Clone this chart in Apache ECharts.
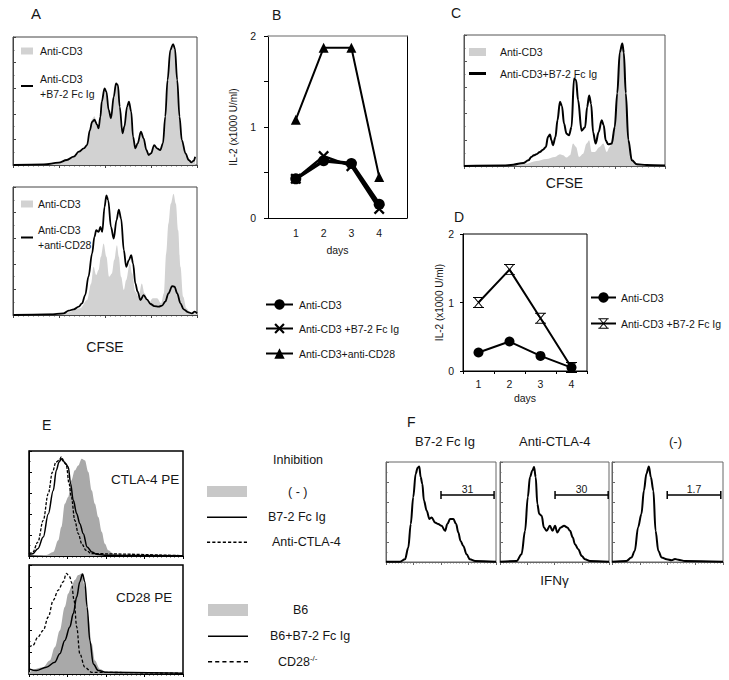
<!DOCTYPE html>
<html><head><meta charset="utf-8">
<script src="https://cdn.jsdelivr.net/npm/echarts@6/dist/echarts.min.js"></script>
<style>html,body{margin:0;padding:0;background:#fff}#c{width:729px;height:680px}</style>
</head><body><div id="c"></div>
<script>
// ===== Panel A: CFSE histograms (x = log decades 0..4, y = % of max count) =====
const aTopFill = [[0.01,0],[0.67,0.5],[0.99,1.8],[1.17,3.9],[1.32,6.5],[1.43,10.4],[1.54,13],[1.61,16],[1.67,28],[1.72,36],[1.77,38],[1.83,32],[1.86,29],[1.90,38],[1.93,49.5],[1.99,59.9],[2.03,57.3],[2.08,43],[2.13,36.5],[2.19,53.4],[2.24,63.8],[2.28,62.5],[2.32,45.6],[2.38,24.7],[2.42,29.9],[2.48,45.6],[2.52,49.5],[2.57,41.7],[2.61,22.1],[2.66,13],[2.71,16.9],[2.78,26],[2.84,20.8],[2.90,11.7],[2.95,7.8],[3.00,9.1],[3.07,15.6],[3.13,13],[3.20,11.7],[3.26,16.9],[3.31,37.8],[3.36,66.4],[3.42,89.8],[3.48,94.5],[3.52,91.1],[3.57,66.4],[3.62,37.8],[3.67,19.5],[3.75,9.1],[3.82,3.9],[3.88,2.1],[3.93,3.4],[3.96,6.5]];
const aTopLine = [[0.01,0],[0.67,0.5],[0.99,1.8],[1.17,3.9],[1.32,6.5],[1.43,10.4],[1.54,13],[1.61,15.6],[1.67,27],[1.72,33.6],[1.77,35.4],[1.83,31.3],[1.86,28.6],[1.90,37.8],[1.93,49.5],[1.99,59.9],[2.03,57.3],[2.08,43],[2.13,36.5],[2.19,53.4],[2.24,63.8],[2.28,62.5],[2.32,45.6],[2.38,24.7],[2.42,29.9],[2.48,45.6],[2.52,49.5],[2.57,41.7],[2.61,22.1],[2.66,13],[2.71,16.9],[2.78,26],[2.84,20.8],[2.90,11.7],[2.95,7.8],[3.00,9.1],[3.07,15.6],[3.13,13],[3.20,11.7],[3.26,16.9],[3.31,37.8],[3.36,66.4],[3.42,89.8],[3.48,94.5],[3.52,91.1],[3.57,66.4],[3.62,37.8],[3.67,19.5],[3.75,9.1],[3.82,3.9],[3.88,2.1],[3.93,3.4],[3.96,6.5]];
const aBotFill = [[0.01,0],[1.17,1.8],[1.46,5.2],[1.61,11.7],[1.70,24.7],[1.75,37.7],[1.81,31.2],[1.86,35.1],[1.91,45.5],[1.97,55.8],[2.03,45.5],[2.09,29.9],[2.15,32.5],[2.20,42.9],[2.26,54.5],[2.30,45.5],[2.35,29.9],[2.41,19.5],[2.46,27.3],[2.54,40.3],[2.59,32.5],[2.66,18.2],[2.73,14.3],[2.80,24.7],[2.86,16.9],[2.95,9.1],[3.04,13],[3.13,13],[3.22,9.1],[3.28,16.9],[3.33,48.1],[3.38,71.4],[3.43,87],[3.49,94.8],[3.54,87],[3.59,66.2],[3.64,37.7],[3.70,14.3],[3.77,5.2],[3.85,1.8],[4.00,0.8]];
const aBotLine = [[0.01,0],[0.81,0.5],[1.10,1.3],[1.21,3.4],[1.32,4.4],[1.43,6.5],[1.50,9.1],[1.57,15.6],[1.64,29.9],[1.72,48.1],[1.77,61],[1.81,66.2],[1.86,64.9],[1.90,68.8],[1.94,64.9],[1.99,84.4],[2.03,93.5],[2.07,89.6],[2.13,68.8],[2.19,59.7],[2.25,74],[2.30,82.3],[2.35,75.3],[2.41,50.6],[2.46,37.7],[2.52,42.9],[2.57,46.8],[2.61,40.3],[2.66,24.7],[2.71,18.2],[2.77,11.7],[2.84,15.6],[2.91,12.2],[2.99,8.6],[3.07,7],[3.17,6.5],[3.24,7.3],[3.31,10.4],[3.38,16.9],[3.46,22.6],[3.51,22.1],[3.57,16.9],[3.64,9.1],[3.71,4.4],[3.80,2.3],[3.89,1.3],[3.95,2.6],[4.00,1.3]];

// ===== Panel B: IL-2 (x1000 U/ml) by day =====
const bDays = [1, 2, 3, 4];
const bAntiCD3 = [0.43, 0.63, 0.60, 0.15];
const bAntiCD3B72 = [0.43, 0.68, 0.57, 0.10];
const bAntiCD3CD28 = [1.08, 1.87, 1.87, 0.45];

// ===== Panel C: CFSE histogram =====
const cFill = [[0,0],[0.98,0.5],[1.24,1.8],[1.44,3.8],[1.64,5.4],[1.81,6.9],[1.91,8.9],[1.97,8.2],[2.04,6.4],[2.11,8.2],[2.17,17.1],[2.23,14.5],[2.29,6.9],[2.37,9.4],[2.44,17.1],[2.49,19.6],[2.54,10.7],[2.60,10.7],[2.70,14.5],[2.77,17.1],[2.84,10.7],[2.90,14.5],[2.97,24.7],[3.04,50.3],[3.10,83.4],[3.15,92.3],[3.19,83.4],[3.24,50.3],[3.29,14.5],[3.37,2.3],[3.50,0.8],[4.00,0.3]];
const cLine = [[0,0],[0.78,0.3],[0.98,1],[1.18,2.3],[1.28,4.3],[1.34,6.9],[1.39,8.2],[1.44,8.9],[1.51,10.7],[1.57,12.5],[1.63,14.5],[1.67,22.2],[1.71,24],[1.74,19.6],[1.77,15.8],[1.82,22.2],[1.86,34.9],[1.91,49],[1.95,45.7],[1.99,32.4],[2.04,24.7],[2.09,23.5],[2.14,29.8],[2.19,66.8],[2.23,65.6],[2.27,50.3],[2.34,27],[2.41,29.6],[2.45,44.9],[2.49,53.8],[2.53,47.4],[2.57,25.5],[2.62,17.1],[2.68,26],[2.74,34.9],[2.78,31.1],[2.82,19.6],[2.87,16.6],[2.94,17.1],[3.00,29.8],[3.05,55.6],[3.10,86.7],[3.15,93.6],[3.18,86.7],[3.22,55.6],[3.27,19.9],[3.34,4.3],[3.44,1.3],[3.63,0.8],[4.00,0.3]];

// ===== Panel D: IL-2 (x1000 U/ml) by day =====
const dDays = ['1', '2', '3', '4'];
const dAntiCD3 = [0.27, 0.43, 0.22, 0.05];
const dAntiCD3B72 = [1.00, 1.48, 0.77, 0.05];

// ===== Panel E: CTLA-4 PE / CD28 PE histograms =====
const eTopNone = [[0,0],[0.45,1],[0.63,3.8],[0.76,15],[0.84,27.6],[0.93,49.8],[1.02,56.2],[1.10,72],[1.19,81.6],[1.28,86.3],[1.37,92.7],[1.45,91.1],[1.54,80],[1.63,62.5],[1.71,49.8],[1.80,37.1],[1.89,22.9],[1.97,11.7],[2.06,5.4],[2.19,2.2],[2.37,0.6],[4,0.3]];
const eTopB72 = [[0,1.6],[0.10,2.2],[0.23,7],[0.37,18],[0.50,40],[0.63,62.5],[0.71,81.6],[0.78,89.5],[0.84,92.7],[0.89,90.5],[0.95,88],[1.02,84.8],[1.08,68.9],[1.15,53],[1.24,40.3],[1.32,30.8],[1.41,21.3],[1.51,8.6],[1.63,3.8],[1.76,1.6],[2.02,0.6],[4,0.3]];
const eTopAntiCTLA4 = [[0,1.6],[0.10,3.8],[0.23,13.3],[0.37,34],[0.50,59.4],[0.61,80],[0.70,89.5],[0.78,91.1],[0.84,94.3],[0.90,91.1],[0.97,86.3],[1.04,68.9],[1.10,56.2],[1.19,34],[1.28,21.3],[1.37,11.7],[1.48,5.4],[1.63,2.2],[4,0.3]];
const eBotB6 = [[0,1.5],[0.37,6.2],[0.54,12.3],[0.67,24.6],[0.80,40],[0.93,61.5],[1.02,73.8],[1.10,80],[1.19,86.2],[1.28,90.8],[1.37,92.3],[1.45,80],[1.54,52.3],[1.63,27.7],[1.71,12.3],[1.84,4.6],[2.02,1.5],[4,0.6]];
const eBotB6B72 = [[0,4.6],[0.19,3.1],[0.45,6.2],[0.67,10.8],[0.80,18.5],[0.93,30.8],[1.06,43.1],[1.15,55.4],[1.24,70.8],[1.32,84.6],[1.39,91.7],[1.45,84.6],[1.51,61.5],[1.58,30.8],[1.67,9.2],[1.80,3.1],[2.02,1.5],[4,0.6]];
const eBotCD28KO = [[0,24.6],[0.10,26.2],[0.23,33.8],[0.37,40],[0.50,52.3],[0.63,67.7],[0.76,76.9],[0.89,84.6],[0.97,92.3],[1.06,89.2],[1.10,84.6],[1.17,67.7],[1.24,43.1],[1.32,18.5],[1.45,6.2],[1.63,1.5],[4,0.6]];

// ===== Panel F: IFNγ histograms =====
const fTitles = ['B7-2 Fc Ig', 'Anti-CTLA-4', '(-)'];
const fB72 = [[0,0.3],[0.51,0.3],[0.69,2.7],[0.81,14.4],[0.90,37.9],[0.99,64.8],[1.08,88.3],[1.15,94.3],[1.21,95.6],[1.26,84.9],[1.32,78.2],[1.38,61.4],[1.48,51.3],[1.58,43],[1.66,44.6],[1.78,39.6],[1.90,37.9],[2.02,36.2],[2.15,31.2],[2.23,37.9],[2.33,43],[2.45,43],[2.55,37.9],[2.63,29.5],[2.71,21.1],[2.81,16.1],[2.93,7.7],[3.05,2.7],[3.24,1],[4,0.3]];
const fAntiCTLA4 = [[0,0.3],[0.61,1],[0.79,7.7],[0.92,31.2],[1.02,64.8],[1.10,84.9],[1.19,91.6],[1.25,95],[1.31,84.9],[1.37,58.1],[1.44,48],[1.53,46.3],[1.61,34.6],[1.71,31.2],[1.83,36.2],[1.93,31.2],[2.02,36.2],[2.10,29.5],[2.23,34.6],[2.35,36.2],[2.47,34.6],[2.57,31.2],[2.67,24.5],[2.75,17.8],[2.87,12.8],[3.00,6],[3.12,2.7],[3.30,1],[4,0.3]];
const fNone = [[0,0.3],[0.52,1],[0.70,4.4],[0.82,11.1],[0.94,34.6],[1.06,48],[1.15,71.5],[1.24,88.3],[1.33,95.6],[1.40,84.9],[1.49,71.5],[1.57,31.2],[1.67,11.1],[1.79,4.4],[1.97,2.7],[2.15,1.7],[2.27,3],[2.39,2.3],[2.63,1],[4,0.3]];
const fGateStart = [2.00, 2.02, 1.99];
const fGateEnd = [3.93, 3.97, 3.92];
const fGateLevel = [67, 67, 67];
const fGateLabels = ['31', '30', '1.7'];

// ================= build =================
const FONT = "'Liberation Sans', Arial, Helvetica, sans-serif";
const TXT = '#161616';
const X_BOLD = 'path://M0,1.5L1.5,0L5,3.5L8.5,0L10,1.5L6.5,5L10,8.5L8.5,10L5,6.5L1.5,10L0,8.5L3.5,5Z';
const X_CAP = 'path://M0,0L10,0L10,0.9L0,0.9Z M0,9.1L10,9.1L10,10L0,10Z M1,0.9L2.1,0.9L5,4.3L7.9,0.9L9,0.9L5.6,5L9,9.1L7.9,9.1L5,5.7L2.1,9.1L1,9.1L4.4,5Z';
const DASH_FINE = 'path://M0,0L3,0L3,2L0,2Z M5,0L8,0L8,2L5,2Z M10,0L13,0L13,2L10,2Z M15,0L18,0L18,2L15,2Z M20,0L23,0L23,2L20,2Z M25,0L28,0L28,2L25,2Z M30,0L33,0L33,2L30,2Z M35,0L38,0L38,2L35,2Z';
const DASH = 'path://M0,0L4,0L4,2L0,2Z M7,0L11,0L11,2L7,2Z M14,0L18,0L18,2L14,2Z M21,0L25,0L25,2L21,2Z M28,0L32,0L32,2L28,2Z M35,0L39,0L39,2L35,2Z';

const grids = [
  {left:13, top:37, width:184, height:128, show:true, borderColor:'#444', borderWidth:1},   // 0 A top
  {left:13, top:187, width:184, height:128, show:true, borderColor:'#444', borderWidth:1},  // 1 A bottom
  {left:268, top:36, width:139, height:182},                                               // 2 B
  {left:464, top:35, width:201, height:131, show:true, borderColor:'#555', borderWidth:1},  // 3 C
  {left:463, top:234, width:124, height:137, show:true, borderColor:'#000', borderWidth:1}, // 4 D
  {left:29, top:451, width:154, height:105, show:true, borderColor:'#000', borderWidth:1.5},// 5 E top
  {left:29, top:565, width:154, height:109, show:true, borderColor:'#000', borderWidth:1.5},// 6 E bottom
  {left:386, top:462, width:110, height:100, show:true, borderColor:'#666', borderWidth:1}, // 7 F1
  {left:500, top:462, width:109, height:100, show:true, borderColor:'#666', borderWidth:1}, // 8 F2
  {left:612, top:462, width:111, height:100, show:true, borderColor:'#666', borderWidth:1}  // 9 F3
];
grids.forEach(g => { g.containLabel = false; if (!g.show) g.show = false; g.backgroundColor = 'transparent'; });

const xAxes = [], yAxes = [];
function histAxes(i, color, extraX) {
  xAxes[i] = Object.assign({gridIndex:i, type:'value', min:0, max:4, interval:1,
    axisLine:{show:true, onZero:false, lineStyle:{color, width:1}},
    axisTick:{show:true, length:3, lineStyle:{color, width:1}},
    minorTick:{show:true, splitNumber:9, length:1.5, lineStyle:{color, width:0.8}},
    axisLabel:{show:false}, splitLine:{show:false}, minorSplitLine:{show:false}}, extraX || {});
  yAxes[i] = {gridIndex:i, type:'value', min:0, max:100, interval:20,
    axisLine:{show:true, onZero:false, lineStyle:{color, width:1}},
    axisTick:{show:true, inside:true, length:3, lineStyle:{color, width:1}},
    minorTick:{show:true, splitNumber:2, length:1.5, lineStyle:{color, width:0.8}},
    axisLabel:{show:false}, splitLine:{show:false}, minorSplitLine:{show:false}};
}
histAxes(0, '#444');
histAxes(1, '#444', {name:'CFSE', nameLocation:'middle', nameGap:25, nameTextStyle:{fontSize:14, color:TXT, fontFamily:FONT}});
histAxes(3, '#555', {name:'CFSE', nameLocation:'middle', nameGap:10, nameTextStyle:{fontSize:14, color:TXT, fontFamily:FONT}});
histAxes(5, '#000');
histAxes(6, '#000');
histAxes(7, '#666');
histAxes(8, '#666', {name:'IFNγ', nameLocation:'middle', nameGap:11, nameTextStyle:{fontSize:13.5, color:TXT, fontFamily:FONT}});
histAxes(9, '#666');

// B axes
xAxes[2] = {gridIndex:2, type:'value', min:0, max:5, interval:1,
  axisLine:{show:true, onZero:false, lineStyle:{color:'#000', width:1}}, axisTick:{show:false},
  axisLabel:{fontSize:10.5, color:TXT, margin:9, formatter: v => (v >= 1 && v <= 4) ? String(v) : ''},
  splitLine:{show:false}, name:'days', nameLocation:'middle', nameGap:26,
  nameTextStyle:{fontSize:10.5, color:TXT, fontFamily:FONT}};
yAxes[2] = {gridIndex:2, type:'value', min:0, max:2, interval:1,
  axisLine:{show:true, onZero:false, lineStyle:{color:'#000', width:1}},
  axisTick:{show:true, length:4, lineStyle:{color:'#000'}},
  minorTick:{show:true, splitNumber:2, length:4, lineStyle:{color:'#000', width:1}},
  axisLabel:{fontSize:10.5, color:TXT, margin:12}, splitLine:{show:false}, minorSplitLine:{show:false},
  name:'IL-2 (x1000 U/ml)', nameLocation:'middle', nameGap:30,
  nameTextStyle:{fontSize:10, color:TXT, fontFamily:FONT}};
// D axes
xAxes[4] = {gridIndex:4, type:'category', data:dDays, boundaryGap:true,
  axisLine:{show:true, onZero:false, lineStyle:{color:'#000', width:1}},
  axisTick:{show:true, length:3, lineStyle:{color:'#000'}},
  axisLabel:{fontSize:10.5, color:TXT, margin:7}, splitLine:{show:false},
  name:'days', nameLocation:'middle', nameGap:21, nameTextStyle:{fontSize:10.5, color:TXT, fontFamily:FONT}};
yAxes[4] = {gridIndex:4, type:'value', min:0, max:2, interval:1,
  axisLine:{show:true, onZero:false, lineStyle:{color:'#000', width:1}},
  axisTick:{show:true, length:3, lineStyle:{color:'#000'}},
  axisLabel:{fontSize:10.5, color:TXT, margin:9}, splitLine:{show:false},
  name:'IL-2 (x1000 U/ml)', nameLocation:'middle', nameGap:19,
  nameTextStyle:{fontSize:10, color:TXT, fontFamily:FONT}};
// B frame: grey top, black right
xAxes[10] = {gridIndex:2, type:'value', position:'top', min:0, max:5,
  axisLine:{show:true, onZero:false, lineStyle:{color:'#9a9a9a', width:1.5}}, axisTick:{show:false},
  axisLabel:{show:false}, splitLine:{show:false}};
yAxes[10] = {gridIndex:2, type:'value', position:'right', min:0, max:2,
  axisLine:{show:true, onZero:false, lineStyle:{color:'#000', width:1}}, axisTick:{show:false},
  axisLabel:{show:false}, splitLine:{show:false}};

const series = [];
function fill(name, data, gi, color) {
  series.push({type:'line', name, xAxisIndex:gi, yAxisIndex:gi, data, symbol:'none', smooth:0.35,
    smoothMonotone:'x', lineStyle:{width:0, color}, itemStyle:{color}, areaStyle:{color, opacity:1},
    silent:true, z:2});
}
function curve(name, data, gi, width, type) {
  series.push({type:'line', name, xAxisIndex:gi, yAxisIndex:gi, data, symbol:'none', smooth:0.35,
    smoothMonotone:'x', lineStyle:{width, color:'#000', type: type || 'solid'}, itemStyle:{color:'#000'},
    silent:true, z:3});
}
// A
fill('A1|Anti-CD3', aTopFill, 0, '#d2d2d2');
curve('A1|Anti-CD3\n+B7-2 Fc Ig', aTopLine, 0, 1.8);
fill('A2|Anti-CD3', aBotFill, 1, '#d2d2d2');
curve('A2|Anti-CD3\n+anti-CD28', aBotLine, 1, 1.8);
// C
fill('C|Anti-CD3', cFill, 3, '#cfcfcf');
curve('C|Anti-CD3+B7-2 Fc Ig', cLine, 3, 2);
// E
fill('E1|( - )', eTopNone, 5, '#a9a9a9');
curve('E1|B7-2 Fc Ig', eTopB72, 5, 1.5);
curve('E1|Anti-CTLA-4', eTopAntiCTLA4, 5, 1.3, [3, 1.5]);
fill('E2|B6', eBotB6, 6, '#a9a9a9');
curve('E2|B6+B7-2 Fc Ig', eBotB6B72, 6, 1.5);
curve('E2|CD28{sup|-/-}', eBotCD28KO, 6, 1.3, [3, 2]);
// F
[fB72, fAntiCTLA4, fNone].forEach((d, i) => curve('F' + i, d, 7 + i, 2));
fGateStart.forEach((s, i) => {
  series.push({type:'line', name:'gate' + i, xAxisIndex:7 + i, yAxisIndex:7 + i, silent:true, z:4,
    symbol:'rect', symbolSize:[1.5, 8], lineStyle:{width:1.5, color:'#000'}, itemStyle:{color:'#000'},
    data:[[s, fGateLevel[i]],
          {value:[(s + fGateEnd[i]) / 2, fGateLevel[i]], symbolSize:0,
           label:{show:true, position:'top', distance:1, formatter:fGateLabels[i], fontSize:10.5, color:TXT}},
          [fGateEnd[i], fGateLevel[i]]]});
});
// B
series.push({type:'line', name:'B|Anti-CD3 +B7-2 Fc Ig', xAxisIndex:2, yAxisIndex:2,
  data:bDays.map((d, i) => [d, bAntiCD3B72[i]]), symbol:X_BOLD, symbolSize:11,
  lineStyle:{width:2.5, color:'#000'}, itemStyle:{color:'#000'}, z:3});
series.push({type:'line', name:'B|Anti-CD3', xAxisIndex:2, yAxisIndex:2,
  data:bDays.map((d, i) => [d, bAntiCD3[i]]), symbol:'circle', symbolSize:11,
  lineStyle:{width:3.5, color:'#000'}, itemStyle:{color:'#000'}, z:4});
series.push({type:'line', name:'B|Anti-CD3+anti-CD28', xAxisIndex:2, yAxisIndex:2,
  data:bDays.map((d, i) => [d, bAntiCD3CD28[i]]), symbol:'triangle', symbolSize:10,
  lineStyle:{width:2, color:'#000'}, itemStyle:{color:'#000'}, z:4});
// D
series.push({type:'line', name:'D|Anti-CD3', xAxisIndex:4, yAxisIndex:4, data:dAntiCD3,
  symbol:'circle', symbolSize:10, lineStyle:{width:2, color:'#000'}, itemStyle:{color:'#000'}, z:4});
series.push({type:'line', name:'D|Anti-CD3 +B7-2 Fc Ig', xAxisIndex:4, yAxisIndex:4, data:dAntiCD3B72,
  symbol:X_CAP, symbolSize:11, lineStyle:{width:2, color:'#000'}, itemStyle:{color:'#000'}, z:4});

// legends (one item each)
function leg(name, left, top, w, h, fontSize, pad, icon, color, lh, extra) {
  const item = {name};
  if (icon) { item.icon = icon; item.itemStyle = {color, borderWidth:0}; }
  return Object.assign({show:true, left, top, padding:0, itemGap:0, selectedMode:false, orient:'horizontal',
    itemWidth:w, itemHeight:h, symbolKeepAspect:false, data:[item],
    itemStyle:{borderWidth:0}, lineStyle:{width:2},
    formatter: n => n.slice(n.indexOf('|') + 1),
    textStyle:{fontSize, color:TXT, fontFamily:FONT, lineHeight:lh || Math.round(fontSize * 1.3), padding:[0, 0, 0, pad]}}, extra || {});
}
const legends = [
  leg('A1|Anti-CD3', 21, 44, 12, 7, 10.5, 2, 'rect', '#d2d2d2'),
  leg('A1|Anti-CD3\n+B7-2 Fc Ig', 21, 71, 12, 2, 10.5, 2, 'rect', '#000', 15),
  leg('A2|Anti-CD3', 21, 197, 12, 7, 10.5, 0, 'rect', '#d2d2d2'),
  leg('A2|Anti-CD3\n+anti-CD28', 21, 223, 12, 2, 10.5, 0, 'rect', '#000', 14.5),
  leg('C|Anti-CD3', 469, 45, 17, 8, 10.5, 9, 'rect', '#cfcfcf'),
  leg('C|Anti-CD3+B7-2 Fc Ig', 469, 66.5, 17, 3, 10.5, 9, 'rect', '#000'),
  leg('B|Anti-CD3', 265, 297.5, 27, 13, 10.5, 1),
  leg('B|Anti-CD3 +B7-2 Fc Ig', 265, 321.5, 27, 13, 10.5, 1),
  leg('B|Anti-CD3+anti-CD28', 265, 346.5, 27, 13, 10.5, 1),
  leg('D|Anti-CD3', 590, 290.5, 25, 13, 10.5, 0),
  leg('D|Anti-CD3 +B7-2 Fc Ig', 590, 316.5, 25, 13, 10.5, 0),
  leg('E1|( - )', 207, 483.5, 40, 11, 12.5, 36, 'rect', '#c8c8c8'),
  leg('E1|B7-2 Fc Ig', 207, 509.25, 40, 1.5, 12.5, 16, 'rect', '#000'),
  leg('E1|Anti-CTLA-4', 207, 534.25, 40, 1.5, 12.5, 20, DASH_FINE, '#000'),
  leg('E2|B6', 208, 602, 40, 12, 12.5, 40, 'rect', '#c8c8c8'),
  leg('E2|B6+B7-2 Fc Ig', 208, 628.25, 40, 1.5, 12.5, 17, 'rect', '#000'),
  leg('E2|CD28{sup|-/-}', 208, 654.25, 40, 1.5, 12.5, 25, DASH, '#000', 15,
      {formatter: () => 'CD28{sup|-/-}'})
];
legends[legends.length - 1].textStyle.rich = {sup:{fontSize:8, verticalAlign:'top', color:TXT, fontFamily:FONT, lineHeight:10}};

function ttl(text, left, top, fontSize) {
  return {text, left, top, padding:0, textStyle:{fontSize, fontWeight:'normal', color:TXT, fontFamily:FONT}};
}
const titles = [
  ttl('A', 31, 6, 15), ttl('B', 272, 8, 14), ttl('C', 451, 6, 14), ttl('D', 454, 210, 14),
  ttl('E', 42, 418, 14), ttl('F', 407, 415, 14),
  ttl('CTLA-4 PE', 111, 472, 13.5), ttl('CD28 PE', 116, 590, 13.5),
  ttl('Inhibition', 273, 453, 12.5),
  ttl(fTitles[0], 415, 435, 13), ttl(fTitles[1], 519, 435, 13), ttl(fTitles[2], 669, 435, 13)
];

const chart = echarts.init(document.getElementById('c'), null, {renderer:'svg', width:729, height:680});
chart.setOption({
  backgroundColor:'#fff', animation:false,
  textStyle:{fontFamily:FONT},
  title:titles, legend:legends, grid:grids, xAxis:xAxes, yAxis:yAxes, series
});
</script></body></html>
